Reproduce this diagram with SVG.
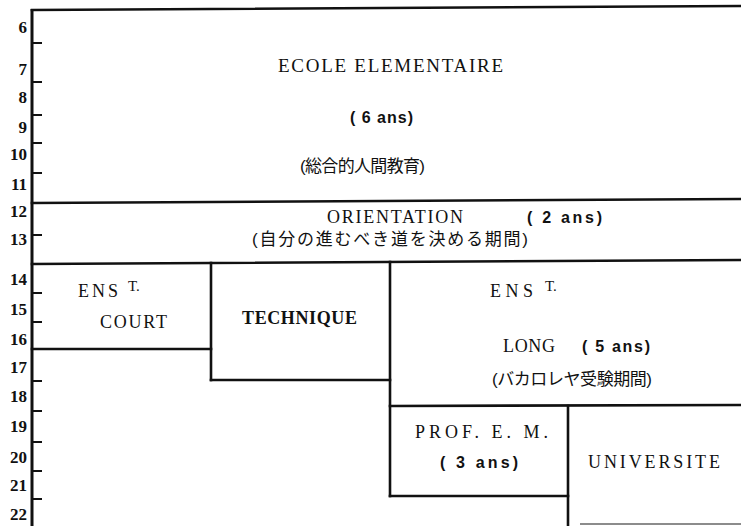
<svg xmlns="http://www.w3.org/2000/svg" width="741" height="526" viewBox="0 0 741 526">
<style>
.ln{stroke:#111;stroke-width:2.6;fill:none;stroke-linecap:square}
.ax{stroke:#111;stroke-width:3;fill:none}
.tk{stroke:#111;stroke-width:2;fill:none}
.num{font-family:"Liberation Serif",serif;font-weight:bold;font-size:17px;fill:#111;text-anchor:end}
.t{font-family:"Liberation Serif",serif;font-size:18px;fill:#111}
.b{font-family:"Liberation Serif",serif;font-weight:bold;font-size:18px;fill:#111}
.s{font-family:"Liberation Sans",sans-serif;font-weight:bold;font-size:16px;fill:#111}
.j{font-family:"Liberation Sans","Noto Sans CJK JP",sans-serif;font-size:17px;fill:#111}
</style>
<rect width="741" height="526" fill="#fff"/>
<g id="axis">
<line class="ax" x1="32" y1="9" x2="32" y2="526"/>
<g class="tk">
<line x1="32" y1="43" x2="42" y2="43"/>
<line x1="32" y1="82" x2="42" y2="82"/>
<line x1="32" y1="115" x2="42" y2="115"/>
<line x1="32" y1="143" x2="42" y2="143"/>
<line x1="32" y1="173" x2="42" y2="173"/>
<line x1="32" y1="235" x2="42" y2="235"/>
<line x1="32" y1="293" x2="42" y2="293"/>
<line x1="32" y1="322" x2="42" y2="322"/>
<line x1="32" y1="381" x2="42" y2="381"/>
<line x1="32" y1="411" x2="42" y2="411"/>
<line x1="32" y1="442" x2="42" y2="442"/>
<line x1="32" y1="471" x2="42" y2="471"/>
<line x1="32" y1="499" x2="42" y2="499"/>
</g>
<text class="num" x="27" y="33">6</text>
<text class="num" x="27" y="75">7</text>
<text class="num" x="27" y="103">8</text>
<text class="num" x="27" y="133">9</text>
<text class="num" x="27" y="160">10</text>
<text class="num" x="27" y="190">11</text>
<text class="num" x="27" y="217">12</text>
<text class="num" x="27" y="245">13</text>
<text class="num" x="27" y="285">14</text>
<text class="num" x="27" y="315">15</text>
<text class="num" x="27" y="345">16</text>
<text class="num" x="27" y="373">17</text>
<text class="num" x="27" y="402">18</text>
<text class="num" x="27" y="432">19</text>
<text class="num" x="27" y="463">20</text>
<text class="num" x="27" y="491">21</text>
<text class="num" x="27" y="520">22</text>
</g>
<g id="ecole">
<line class="ln" x1="32" y1="10" x2="741" y2="6"/>
<text class="t" x="278" y="72" textLength="225" lengthAdjust="spacing" style="font-size:19px">ECOLE  ELEMENTAIRE</text>
<text class="s" x="350" y="123" textLength="63" lengthAdjust="spacing">( 6 ans)</text>
<text class="j" x="300" y="172" textLength="125" lengthAdjust="spacing">(総合的人間教育)</text>
</g>
<g id="orientation">
<line class="ln" x1="32" y1="203" x2="741" y2="199"/>
<text class="t" x="327" y="223" textLength="136" lengthAdjust="spacing">ORIENTATION</text>
<text class="s" x="527" y="223" textLength="75" lengthAdjust="spacing">( 2  ans)</text>
<text class="j" x="252" y="245" textLength="276" lengthAdjust="spacing">(自分の進むべき道を決める期間)</text>
</g>
<g id="court">
<line class="ln" x1="32" y1="264" x2="741" y2="260"/>
<line class="ln" x1="32" y1="349" x2="211" y2="349"/>
<line class="ln" x1="211" y1="263" x2="211" y2="380"/>
<text class="t" x="78" y="297" textLength="40" lengthAdjust="spacing">ENS</text>
<text class="t" x="128" y="291" style="font-size:15px">T.</text>
<text class="t" x="100" y="328" textLength="67" lengthAdjust="spacing">COURT</text>
</g>
<g id="technique">
<line class="ln" x1="211" y1="380" x2="390" y2="380"/>
<line class="ln" x1="390" y1="262" x2="390" y2="496"/>
<text class="b" x="242" y="324" textLength="115" lengthAdjust="spacing">TECHNIQUE</text>
</g>
<g id="long">
<line class="ln" x1="390" y1="406" x2="741" y2="405"/>
<text class="t" x="490" y="297" textLength="43" lengthAdjust="spacing">ENS</text>
<text class="t" x="545" y="291" style="font-size:15px">T.</text>
<text class="t" x="503" y="352" textLength="52" lengthAdjust="spacing">LONG</text>
<text class="s" x="582" y="352" textLength="68" lengthAdjust="spacing">( 5  ans)</text>
<text class="j" x="492" y="385" textLength="160" lengthAdjust="spacing">(バカロレヤ受験期間)</text>
</g>
<g id="prof">
<line class="ln" x1="390" y1="496" x2="568" y2="496"/>
<line class="ln" x1="568" y1="406" x2="568" y2="526"/>
<text class="t" x="415" y="438" textLength="133" lengthAdjust="spacing">PROF.   E. M.</text>
<text class="s" x="440" y="468" textLength="78" lengthAdjust="spacing">( 3  ans)</text>
</g>
<g id="universite">
<line x1="580" y1="524" x2="741" y2="524" stroke="#666" stroke-width="1.5"/>
<text class="t" x="588" y="468" textLength="132" lengthAdjust="spacing">UNIVERSITE</text>
</g>
</svg>
